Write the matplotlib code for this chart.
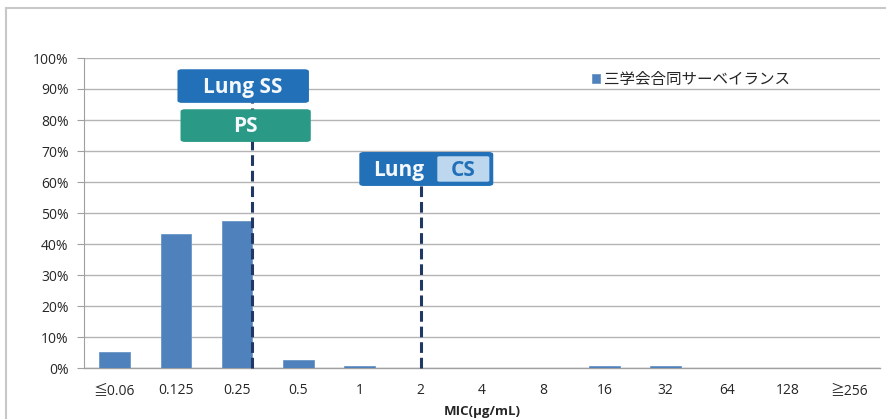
import matplotlib
matplotlib.use("Agg")
import matplotlib.pyplot as plt
from matplotlib.patches import FancyBboxPatch, Rectangle
from matplotlib.ticker import PercentFormatter

plt.rcParams['font.family'] = ['Open Sans', 'Noto Sans CJK JP', 'DejaVu Sans']

# MIC distribution data
categories = ['≦0.06', '0.125', '0.25', '0.5', '1', '2', '4', '8', '16', '32', '64', '128', '≧256']
values = [5.1, 43.2, 47.4, 2.5, 0.5, 0.15, 0.1, 0.1, 0.5, 0.8, 0.0, 0.0, 0.0]
series_name = '三学会合同サーベイランス'

# breakpoints (category index positions)
ss_breakpoint = 2.25   # Lung SS / PS
cs_breakpoint = 5.0    # Lung CS

bar_color = '#4F81BD'
grid_color = '#B4B4B4'
navy = '#1F3864'
blue_box = '#2170B8'
teal_box = '#2A9985'
light_box = '#BDD7EE'

fig = plt.figure(figsize=(8.87, 4.19), dpi=100)
fig.patch.set_facecolor('white')

# outer chart frame
fig.patches.append(Rectangle((6 / 887, -0.1), 1.2, 1.1 - 8 / 419, transform=fig.transFigure,
                             fill=False, edgecolor='#C8C8C8', linewidth=1.5, zorder=0))

ax = fig.add_axes([84 / 887, 1 - 368 / 419, 796 / 887, 310 / 419])
x = list(range(len(categories)))
ax.bar(x, values, width=0.5, color=bar_color, edgecolor='#6A96C8', linewidth=0.6,
       zorder=3, label=series_name)

ax.set_xlim(-0.5, len(categories) - 0.5)
ax.set_ylim(0, 100)
ax.set_yticks(range(0, 101, 10))
ax.yaxis.set_major_formatter(PercentFormatter(decimals=0))
ax.set_xticks(x)
ax.set_xticklabels(categories)
ax.tick_params(axis='x', length=0, pad=11, labelsize=10, colors='#262626')
ax.tick_params(axis='y', length=5, width=0.8, color='#A0A0A0', pad=6, labelsize=10,
               colors='#262626')
ax.grid(axis='y', color=grid_color, linewidth=1.0, zorder=0)
for s in ['top', 'right']:
    ax.spines[s].set_visible(False)
ax.spines['left'].set_color('#A0A0A0')
ax.spines['bottom'].set_color('#A0A0A0')
ax.spines['left'].set_linewidth(0.8)
ax.spines['bottom'].set_linewidth(1.0)

ax.set_xlabel('MIC(μg/mL)', fontsize=9.5, fontweight='bold', labelpad=5, color='#262626')

# breakpoint dashed lines
ax.plot([ss_breakpoint, ss_breakpoint], [0, 86], color=navy, linewidth=2.2,
        linestyle=(0, (3.5, 1.6)), zorder=4, clip_on=False)
ax.plot([cs_breakpoint, cs_breakpoint], [0, 59], color=navy, linewidth=2.2,
        linestyle=(0, (3.5, 1.6)), zorder=4, clip_on=False)


def label_box(x0, x1, y0, y1, face, edge=None):
    p = FancyBboxPatch((x0, y0), x1 - x0, y1 - y0,
                       boxstyle='round,pad=0,rounding_size=0.06',
                       mutation_aspect=8.0, facecolor=face,
                       edgecolor=edge if edge else face, linewidth=1.2,
                       zorder=6, clip_on=False)
    ax.add_patch(p)


# Lung SS box
label_box(1.04, 3.16, 85.8, 96.1, blue_box)
ax.text(2.1, 90.6, 'Lung SS', ha='center', va='center', color='#F4F8FC',
        fontsize=15, fontweight='bold', zorder=7)
# PS box
label_box(1.09, 3.19, 73.2, 83.2, teal_box)
ax.text(2.14, 77.8, 'PS', ha='center', va='center', color='#F4F8FC',
        fontsize=15, fontweight='bold', zorder=7)
# Lung CS box
label_box(4.01, 6.17, 59.0, 69.4, blue_box)
ax.add_patch(FancyBboxPatch((5.27, 60.1), 0.85, 8.2,
                            boxstyle='round,pad=0,rounding_size=0.04',
                            mutation_aspect=8.0, facecolor=light_box,
                            edgecolor='none', zorder=6.5, clip_on=False))
ax.text(4.64, 63.8, 'Lung', ha='center', va='center', color='#F4F8FC',
        fontsize=15, fontweight='bold', zorder=7)
ax.text(5.69, 63.8, 'CS', ha='center', va='center', color=blue_box,
        fontsize=15, fontweight='bold', zorder=7)

leg = ax.legend(loc='upper left', bbox_to_anchor=(0.63, 0.975), frameon=False,
                fontsize=11.2, handlelength=0.55, handleheight=0.55, handletextpad=0.25,
                borderaxespad=0)
for t in leg.get_texts():
    t.set_color('#262626')

fig.savefig('out.png', dpi=100, facecolor='white')
